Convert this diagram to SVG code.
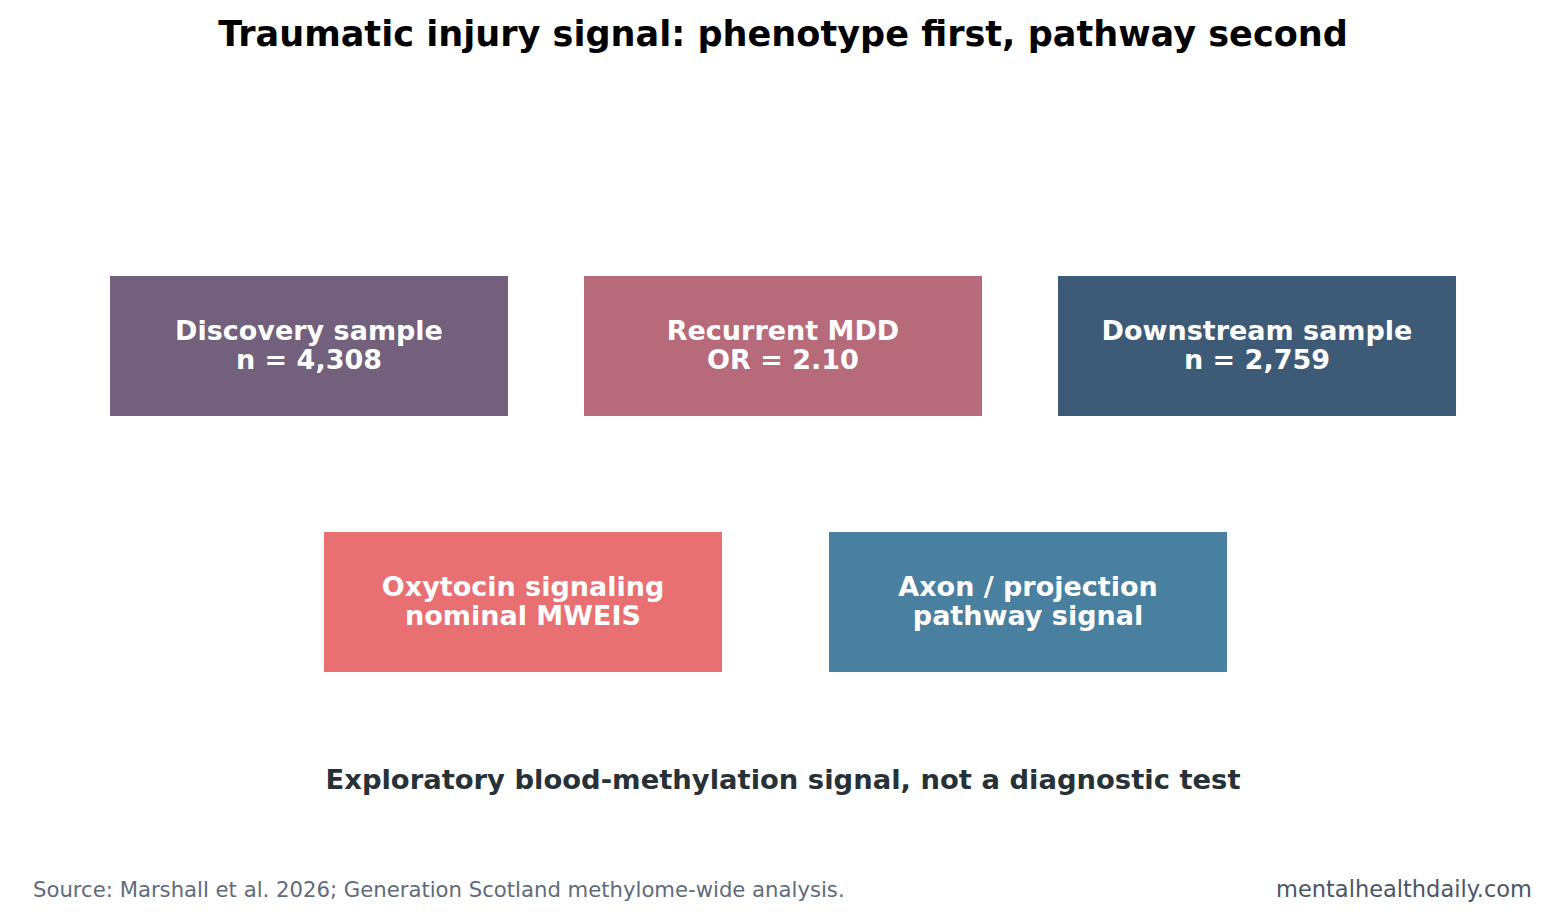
<svg xmlns="http://www.w3.org/2000/svg" width="1566" height="920" viewBox="0 0 1566 920">
<style>
.t{font-family:"DejaVu Sans",sans-serif}
.lbl{font-family:"DejaVu Sans",sans-serif;font-weight:bold;font-size:27px;fill:#ffffff;text-anchor:middle}
</style>
<rect width="1566" height="920" fill="#ffffff"/>
<text class="t" x="783" y="46" font-size="35.1" font-weight="bold" text-anchor="middle" fill="#000000">Traumatic injury signal: phenotype first, pathway second</text>
<g id="connectors"></g>
<g id="discovery">
<rect x="110" y="276" width="398" height="140" fill="#73607c"/>
<text class="lbl" x="309" y="340">Discovery sample</text>
<text class="lbl" x="309" y="369">n = 4,308</text>
</g>
<g id="mdd">
<rect x="584" y="276" width="398" height="140" fill="#b76b7a"/>
<text class="lbl" x="783" y="340">Recurrent MDD</text>
<text class="lbl" x="783" y="369">OR = 2.10</text>
</g>
<g id="downstream">
<rect x="1058" y="276" width="398" height="140" fill="#3d5a76"/>
<text class="lbl" x="1257" y="340">Downstream sample</text>
<text class="lbl" x="1257" y="369">n = 2,759</text>
</g>
<g id="oxytocin">
<rect x="324" y="532" width="398" height="140" fill="#e87073"/>
<text class="lbl" x="523" y="596">Oxytocin signaling</text>
<text class="lbl" x="523" y="625">nominal MWEIS</text>
</g>
<g id="axon">
<rect x="829" y="532" width="398" height="140" fill="#4a809f"/>
<text class="lbl" x="1028" y="596">Axon / projection</text>
<text class="lbl" x="1028" y="625">pathway signal</text>
</g>
<text class="t" x="783" y="789" font-size="27.4" font-weight="bold" text-anchor="middle" fill="#263238">Exploratory blood-methylation signal, not a diagnostic test</text>
<text class="t" x="33" y="897" font-size="21.2" fill="#5f6b7a">Source: Marshall et al. 2026; Generation Scotland methylome-wide analysis.</text>
<text class="t" x="1532" y="897" font-size="22.5" text-anchor="end" fill="#4a5568">mentalhealthdaily.com</text>
</svg>
